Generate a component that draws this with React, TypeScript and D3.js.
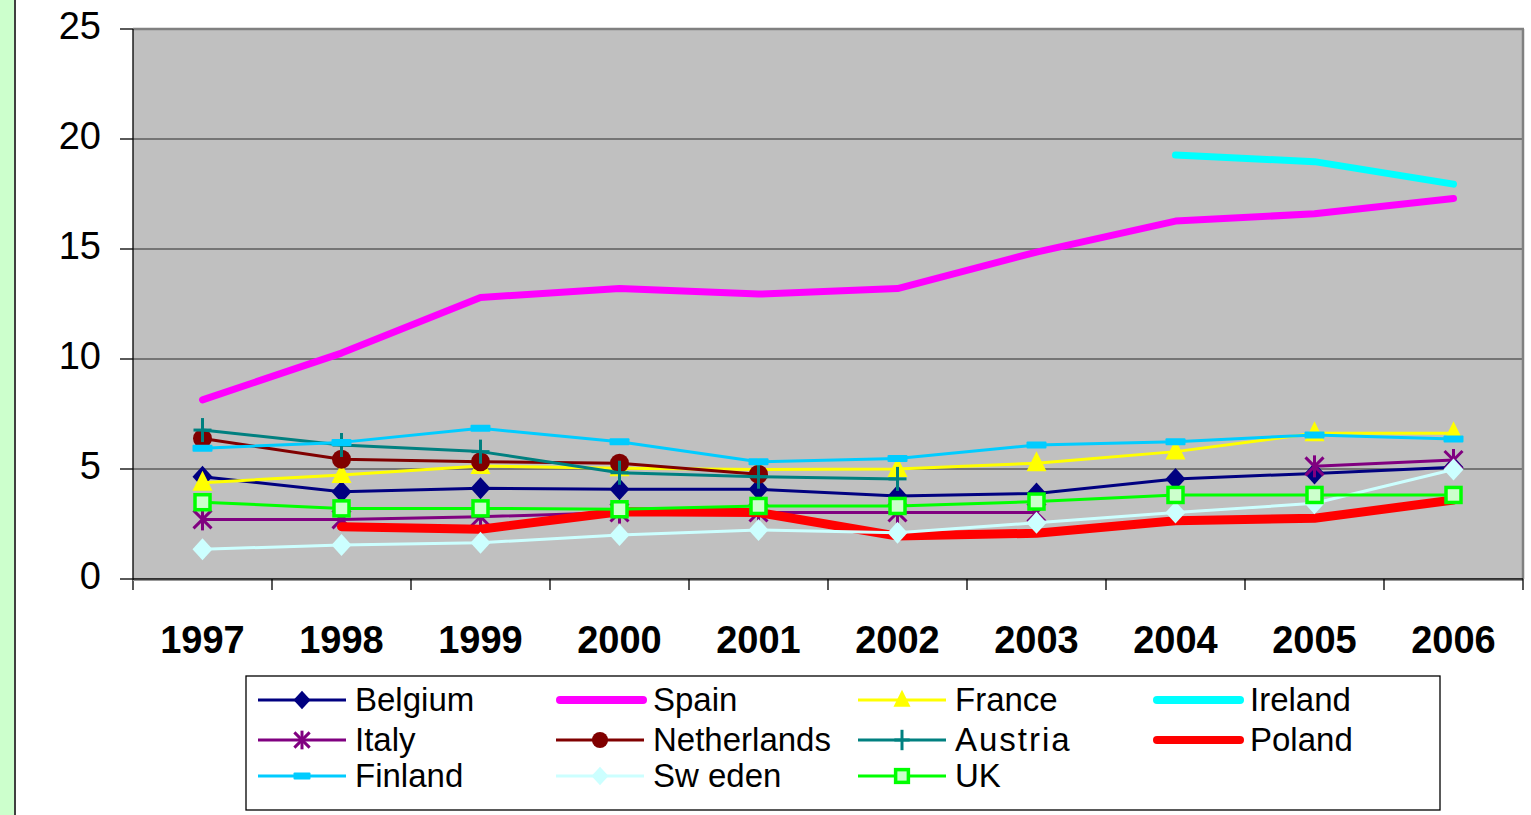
import React from "react";
import * as d3 from "d3";

const years = ["1997", "1998", "1999", "2000", "2001", "2002", "2003", "2004", "2005", "2006"];
const yTicks = [0, 5, 10, 15, 20, 25];

const belgium = [4.65, 3.97, 4.12, 4.08, 4.08, 3.77, 3.89, 4.55, 4.8, 5.08];
const spain = [8.14, 10.27, 12.8, 13.2, 12.95, 13.2, 14.86, 16.27, 16.6, 17.3];
const france = [4.38, 4.73, 5.14, 5.03, 4.98, 5.0, 5.26, 5.79, 6.62, 6.62];
const ireland = [null, null, null, null, null, null, null, 19.27, 18.97, 17.95];
const italy = [2.71, 2.71, 2.83, 3.02, 3.02, 3.02, 3.02, null, 5.12, 5.41];
const netherlands = [6.39, 5.44, 5.33, 5.26, 4.76, null, null, null, null, null];
const austria = [6.77, 6.09, 5.79, 4.83, 4.65, 4.55, null, null, null, null];
const poland = [null, 2.38, 2.26, 3.06, 3.02, 1.95, 2.08, 2.65, 2.76, 3.59];
const finland = [5.94, 6.21, 6.85, 6.24, 5.33, 5.48, 6.09, 6.24, 6.55, 6.36];
const sweden = [1.35, 1.55, 1.65, 2.0, 2.23, 2.1, 2.56, 3.02, 3.44, 4.98];
const uk = [3.49, 3.21, 3.21, 3.17, 3.32, 3.32, 3.52, 3.82, 3.82, 3.82];

type Series = { name: string; values: (number | null)[]; color: string; width: number; marker: string; label?: string };

const series: Series[] = [
  { name: "Belgium", values: belgium, color: "#000080", width: 3, marker: "diamond" },
  { name: "Spain", values: spain, color: "#FF00FF", width: 7, marker: "none" },
  { name: "France", values: france, color: "#FFFF00", width: 3, marker: "triangle" },
  { name: "Ireland", values: ireland, color: "#00FFFF", width: 7, marker: "none" },
  { name: "Italy", values: italy, color: "#800080", width: 3, marker: "star" },
  { name: "Netherlands", values: netherlands, color: "#800000", width: 3, marker: "circle" },
  { name: "Austria", values: austria, color: "#008080", width: 3, marker: "plus" },
  { name: "Poland", values: poland, color: "#FF0000", width: 9, marker: "none" },
  { name: "Finland", values: finland, color: "#00CCFF", width: 3, marker: "dash" },
  { name: "Sweden", values: sweden, color: "#CCFFFF", width: 3, marker: "ldiamond", label: "Sw eden" },
  { name: "UK", values: uk, color: "#00FF00", width: 3, marker: "square" },
];

const FONT = "'Liberation Sans', Arial, sans-serif";

function Marker({ type, x, y, color, k = 1 }: { type: string; x: number; y: number; color: string; k?: number }) {
  switch (type) {
    case "diamond":
    case "ldiamond":
      return <path d={`M${x},${y - 11 * k}L${x + 10 * k},${y}L${x},${y + 11 * k}L${x - 10 * k},${y}Z`} fill={color} />;
    case "triangle":
      return <path d={`M${x},${y - 12 * k}L${x + 10 * k},${y + 8 * k}L${x - 10 * k},${y + 8 * k}Z`} fill={color} />;
    case "circle":
      return <circle cx={x} cy={y} r={9.5 * k} fill={color} />;
    case "star":
      return (
        <g stroke={color} strokeWidth={3}>
          <line x1={x} y1={y - 11 * k} x2={x} y2={y + 11 * k} />
          <line x1={x - 9 * k} y1={y - 9 * k} x2={x + 9 * k} y2={y + 9 * k} />
          <line x1={x - 9 * k} y1={y + 9 * k} x2={x + 9 * k} y2={y - 9 * k} />
        </g>
      );
    case "plus":
      return (
        <g stroke={color} strokeWidth={3}>
          <line x1={x} y1={y - 12 * k} x2={x} y2={y + 12 * k} />
          <line x1={x - 9 * k} y1={y} x2={x + 9 * k} y2={y} />
        </g>
      );
    case "dash":
      return <rect x={x - 10 * k} y={y - 3.5} width={20 * k} height={7} rx={1} fill={color} />;
    case "square":
      return (
        <rect x={x - 7.5 * k} y={y - 7.5 * k} width={15 * k} height={15 * k} fill="#CCFFCC" stroke={color} strokeWidth={3.5} />
      );
    default:
      return null;
  }
}

export default function App() {
  const W = 1531, H = 815;
  const left = 133, right = 1523, top = 29, bottom = 579;
  const x = d3.scaleBand<string>().domain(years).range([left, right]).padding(0);
  const y = d3.scaleLinear().domain([0, 25]).range([bottom, top]);
  const cx = (i: number) => (x(years[i]) as number) + x.bandwidth() / 2;

  const line = d3
    .line<number | null>()
    .defined((d) => d !== null)
    .x((_, i) => cx(i))
    .y((d) => y(d as number));

  const legendCols = [258, 556, 858, 1153];
  const legendRows = [700, 740, 776];

  return (
    <svg width={W} height={H} style={{ position: "absolute", left: 0, top: 0, background: "#fff" }} fontFamily={FONT}>
      <rect x={0} y={0} width={14} height={H} fill="#CCFFCC" />
      <rect x={14} y={0} width={2} height={H} fill="#404040" />

      <rect x={left} y={top} width={right - left} height={bottom - top} fill="#C0C0C0" />
      {yTicks.filter((t) => t > 0 && t < 25).map((t) => (
        <line key={t} x1={left} x2={right} y1={y(t)} y2={y(t)} stroke="#2a2a2a" strokeWidth={1.2} />
      ))}
      <line x1={left} x2={right + 1} y1={top} y2={top} stroke="#808080" strokeWidth={2.5} />
      <line x1={right} x2={right} y1={top} y2={bottom} stroke="#808080" strokeWidth={2.5} />
      <line x1={left} x2={left} y1={top} y2={590} stroke="#000" strokeWidth={1.3} />
      <line x1={left} x2={right} y1={bottom} y2={bottom} stroke="#000" strokeWidth={1.3} />
      <line x1={left} x2={right} y1={bottom + 1.5} y2={bottom + 1.5} stroke="#999" strokeWidth={1} />

      {yTicks.map((t) => (
        <g key={t}>
          <line x1={120} x2={left} y1={y(t)} y2={y(t)} stroke="#000" strokeWidth={1.3} />
          <text x={101} y={y(t) + 10} textAnchor="end" fontSize={38} fill="#000">
            {t}
          </text>
        </g>
      ))}

      {years.map((yr, i) => (
        <g key={yr}>
          {i > 0 && <line x1={x(yr)} x2={x(yr)} y1={bottom} y2={590} stroke="#000" strokeWidth={1.3} />}
          <text x={cx(i)} y={653} textAnchor="middle" fontSize={38} fontWeight="bold" fill="#000">
            {yr}
          </text>
        </g>
      ))}
      <line x1={right} x2={right} y1={bottom} y2={590} stroke="#000" strokeWidth={1.3} />

      {series.map((s) => (
        <g key={s.name}>
          <path
            d={line(s.values) || ""}
            fill="none"
            stroke={s.color}
            strokeWidth={s.width}
            strokeLinejoin="round"
            strokeLinecap={s.marker === "none" ? "round" : "butt"}
          />
          {s.values.map((v, i) =>
            v === null ? null : <Marker key={i} type={s.marker} x={cx(i)} y={y(v)} color={s.color} />
          )}
        </g>
      ))}

      <rect x={246} y={676} width={1194} height={134} fill="#fff" stroke="#000" strokeWidth={1.3} />
      {series.map((s, k) => {
        const col = k % 4;
        const row = Math.floor(k / 4);
        const lx = legendCols[col];
        const ly = legendRows[row];
        const thick = s.marker === "none";
        return (
          <g key={s.name}>
            <line
              x1={thick ? lx + 4 : lx}
              x2={thick ? lx + 87 : lx + 88}
              y1={ly}
              y2={ly}
              stroke={s.color}
              strokeWidth={thick ? 8 : 3}
              strokeLinecap={thick ? "round" : "butt"}
            />
            <Marker type={s.marker} x={lx + 44} y={ly} color={s.color} k={0.85} />
            <text
              x={lx + 97}
              y={ly + 11}
              fontSize={33}
              fill="#000"
              letterSpacing={s.name === "Austria" ? 2 : 0}
            >
              {s.label || s.name}
            </text>
          </g>
        );
      })}
    </svg>
  );
}
